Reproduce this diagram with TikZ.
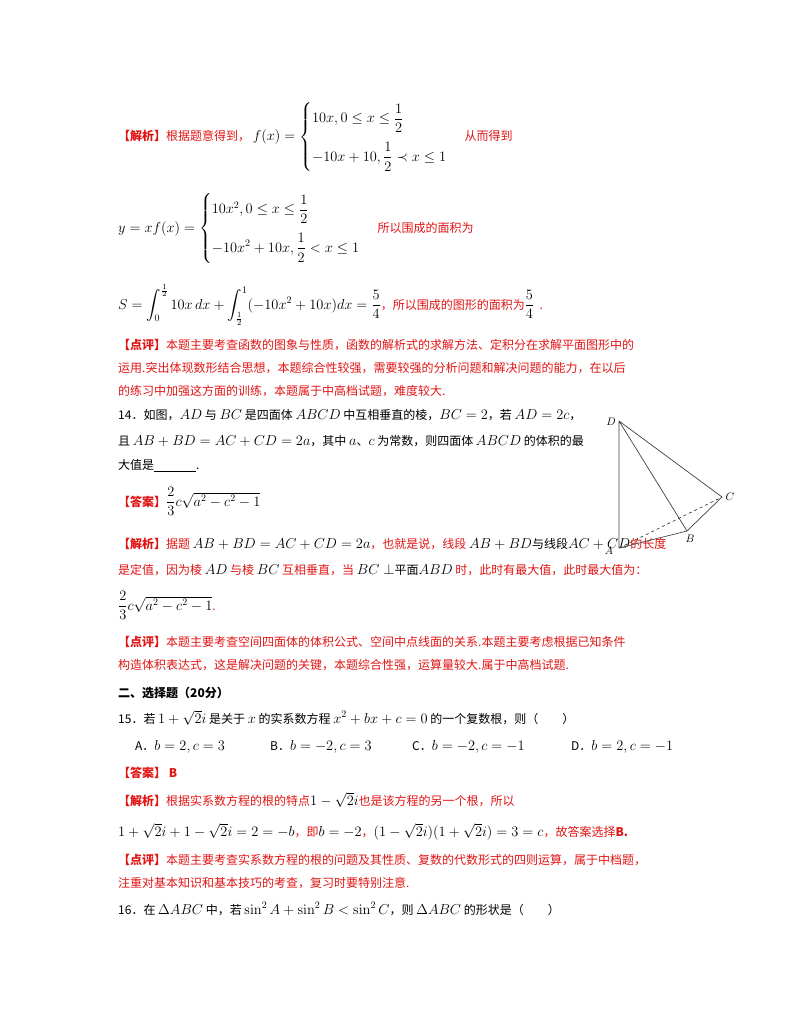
\documentclass[tikz,border=0pt]{standalone}
\usepackage{amsmath}
\usepackage[no-math]{fontspec}
\setmainfont{Noto Sans CJK SC}
\DeclareMathSizes{12}{14.5}{10}{8}
\definecolor{rd}{RGB}{225,20,20}
\newcommand{\R}[1]{\textcolor{rd}{#1}}
\newcommand{\RB}[1]{\textcolor{rd}{\bfseries #1}}
\begin{document}
\begin{tikzpicture}[x=1pt,y=-1pt,font=\fontsize{12}{15}\selectfont,
  ln/.style={anchor=base west,inner sep=0pt},
  edge/.style={draw=black!75,line width=0.7pt},
  lab/.style={font=\fontsize{11}{13}\selectfont}]
\useasboundingbox (0,0) rectangle (800,1035);
\node[ln] (l1) at (118,141) {\RB{【解析】}\R{根据题意得到，}\ $\displaystyle f(x)=\begin{cases}10x,0\le x\le\dfrac12\\[14pt]-10x+10,\dfrac12\prec x\le1\end{cases}$\ \ \R{从而得到}};
\node[ln] (l2) at (118,232) {$\displaystyle y=xf(x)=\begin{cases}10x^2,0\le x\le\dfrac12\\[14pt]-10x^2+10x,\dfrac12< x\le1\end{cases}$\ \ \R{所以围成的面积为}};
\node[ln] (l3) at (118,309) {$\displaystyle S=\int_0^{\frac12}10x\,dx+\int_{\frac12}^{1}(-10x^2+10x)dx=\frac54$\R{，所以围成的图形的面积为}$\dfrac54$\ \ \R{.}};
\node[ln] (l4) at (118,349) {\RB{【点评】}\R{本题主要考查函数的图象与性质，函数的解析式的求解方法、定积分在求解平面图形中的}};
\node[ln] (l5) at (118,372) {\R{运用.突出体现数形结合思想，本题综合性较强，需要较强的分析问题和解决问题的能力，在以后}};
\node[ln] (l6) at (118,395) {\R{的练习中加强这方面的训练，本题属于中高档试题，难度较大.}};
\node[ln] (l7) at (118,419) {14．如图，$AD$ 与 $BC$ 是四面体 $ABCD$ 中互相垂直的棱，$BC=2$，若 $AD=2c$，};
\node[ln] (l8) at (118,445) {且 $AB+BD=AC+CD=2a$，其中 $a$、$c$ 为常数，则四面体 $ABCD$ 的体积的最};
\node[ln] (l9) at (118,469) {大值是\underline{\hspace{3.5em}}.};
\node[ln] (l10) at (118,506) {\RB{【答案】}$\dfrac23c\sqrt{a^2-c^2-1}$};
\node[ln] (l11) at (118,548) {\RB{【解析】}\R{据题} $AB+BD=AC+CD=2a$\R{，也就是说，线段} $AB+BD$与线段$AC+CD$\R{的长度}};
\node[ln] (l12) at (118,574) {\R{是定值，因为棱} $AD$ \R{与棱} $BC$ \R{互相垂直，当} $BC\perp$平面$ABD$ \R{时，此时有最大值，此时最大值为：}};
\node[ln] (l13) at (118,610) {$\dfrac23c\sqrt{a^2-c^2-1}$\R{.}};
\node[ln] (l14) at (118,646) {\RB{【点评】}\R{本题主要考查空间四面体的体积公式、空间中点线面的关系.本题主要考虑根据已知条件}};
\node[ln] (l15) at (118,669) {\R{构造体积表达式，这是解决问题的关键，本题综合性强，运算量较大.属于中高档试题.}};
\node[ln] (l16) at (118,697) {\bfseries 二、选择题（20分）};
\node[ln] (l17) at (118,723) {15．若 $1+\sqrt2 i$ 是关于 $x$ 的实系数方程 $x^2+bx+c=0$ 的一个复数根，则（\qquad）};
\node[ln] (oA) at (135,750) {A．$b=2,c=3$};
\node[ln] (oB) at (270,750) {B．$b=-2,c=3$};
\node[ln] (oC) at (412,750) {C．$b=-2,c=-1$};
\node[ln] (oD) at (571,750) {D．$b=2,c=-1$};
\node[ln] (l18) at (118,777) {\RB{【答案】 B}};
\node[ln] (l19) at (118,805) {\RB{【解析】}\R{根据实系数方程的根的特点}$1-\sqrt2 i$\R{也是该方程的另一个根，所以}};
\node[ln] (l20) at (118,836) {$1+\sqrt2 i+1-\sqrt2 i=2=-b$\R{，即}$b=-2$\R{，}$(1-\sqrt2 i)(1+\sqrt2 i)=3=c$\R{，故答案选择}\RB{B.}};
\node[ln] (l21) at (118,864) {\RB{【点评】}\R{本题主要考查实系数方程的根的问题及其性质、复数的代数形式的四则运算，属于中档题，}};
\node[ln] (l22) at (118,887) {\R{注重对基本知识和基本技巧的考查，复习时要特别注意.}};
\node[ln] (l23) at (118,914) {16．在 $\Delta ABC$ 中，若 $\sin^2A+\sin^2B<\sin^2C$，则 $\Delta ABC$ 的形状是（\qquad）};
% figure
\coordinate (D) at (619,421);
\coordinate (A) at (619,548);
\coordinate (B) at (687,531);
\coordinate (C) at (722,497);
\draw[edge] (D)--(A) (D)--(B) (D)--(C) (A)--(B) (B)--(C);
\draw[edge,dashed] (A)--(C);
\node[lab] (nD) at (611,422) {$D$};
\node[lab] (nA) at (609,551) {$A$};
\node[lab] (nB) at (690,539) {$B$};
\node[lab] (nC) at (730,497) {$C$};
\end{tikzpicture}
\end{document}
